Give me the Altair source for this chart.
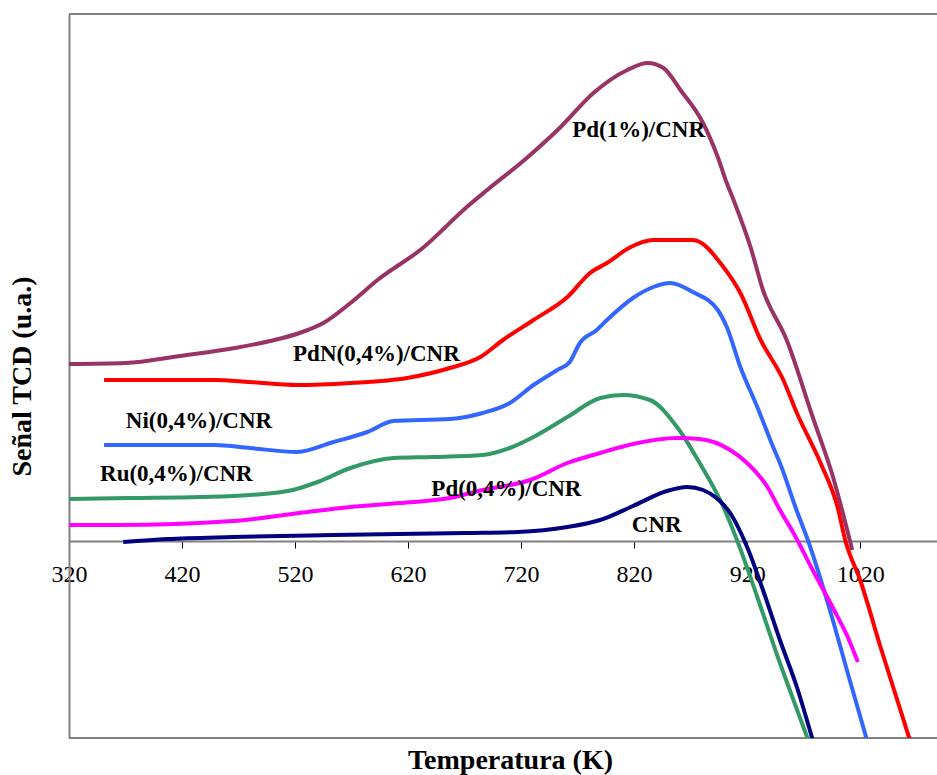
import altair as alt
import pandas as pd

# ---- data (K, TCD signal in arbitrary units) ----
names = ["Pd(1%)/CNR", "PdN(0,4%)/CNR", "Ni(0,4%)/CNR", "Ru(0,4%)/CNR", "Pd(0,4%)/CNR", "CNR"]
colors = ["#993366", "#FF0000", "#3366FF", "#339966", "#FF00FF", "#000080"]
widths = [4, 4, 4, 5, 4, 3]

pd1_k = [320, 370, 418, 467, 498, 524, 545, 569, 593, 633, 672, 690, 725, 755, 784, 814, 832, 846, 861, 881, 894, 902, 908, 923, 934, 955, 978, 996, 1013]
pd1_s = [177, 178, 185, 193, 200, 208, 218, 238, 261, 293, 334, 351, 383, 414, 448, 471, 478, 473, 451, 418, 384, 358, 341, 294, 251, 201, 124, 64, -9]

pdn_k = [351, 449, 480, 522, 569, 619, 657, 684, 704, 731, 761, 781, 796, 817, 837, 872, 899, 914, 932, 952, 964, 985, 1000, 1007, 1020, 1038, 1064]
pdn_s = [161, 161, 159, 156, 158, 163, 173, 184, 201, 221, 244, 268, 278, 294, 301, 301, 274, 248, 201, 161, 128, 78, 34, 0, -39, -106, -199]

ni_k = [351, 449, 480, 522, 554, 584, 607, 657, 686, 710, 731, 752, 763, 772, 787, 796, 819, 837, 852, 872, 894, 902, 914, 929, 943, 949, 964, 974, 994, 1009, 1026]
ni_s = [96, 96, 93, 89, 99, 109, 120, 122, 128, 138, 156, 171, 179, 198, 211, 221, 243, 254, 258, 249, 231, 214, 174, 134, 94, 78, 30, 0, -72, -132, -199]

ru_k = [320, 374, 436, 480, 518, 540, 569, 607, 642, 686, 710, 731, 761, 790, 810, 834, 858, 878, 899, 911, 929, 949, 961, 974]
ru_s = [42, 43, 44, 46, 51, 59, 73, 83, 84, 86, 93, 104, 124, 143, 146, 141, 114, 78, 34, 1, -56, -122, -159, -199]

pd04_k = [320, 363, 465, 524, 569, 613, 657, 686, 728, 761, 790, 819, 858, 878, 905, 920, 938, 949, 961, 978, 996, 1009, 1018]
pd04_s = [16, 16, 20, 28, 34, 38, 43, 51, 61, 78, 88, 97, 103, 102, 91, 78, 54, 31, 8, -29, -67, -96, -121]

cnr_k = [368, 407, 465, 554, 672, 717, 761, 790, 819, 849, 867, 881, 894, 905, 920, 934, 949, 964, 978]
cnr_s = [-1, 2, 4, 6, 8, 9, 14, 21, 35, 50, 54, 51, 42, 28, -6, -49, -99, -146, -199]

x_ticks = [320, 420, 520, 620, 720, 820, 920, 1020]

label_text = ["Pd(1%)/CNR", "PdN(0,4%)/CNR", "Ni(0,4%)/CNR", "Ru(0,4%)/CNR", "Pd(0,4%)/CNR", "CNR"]
label_k = [824, 592, 435, 415, 707, 840]
label_s = [411, 187, 120, 67, 52, 16]

# ---- tables ----
series = [(names[0], pd1_k, pd1_s), (names[1], pdn_k, pdn_s), (names[2], ni_k, ni_s),
          (names[3], ru_k, ru_s), (names[4], pd04_k, pd04_s), (names[5], cnr_k, cnr_s)]
rows = []
for order, (nm, ks, ss) in enumerate(series):
    for i, (k, s) in enumerate(zip(ks, ss)):
        rows.append({"series": nm, "K": k, "S": s, "i": i, "o": order})
df = pd.DataFrame(rows)
lbl = pd.DataFrame({"label": label_text, "K": label_k, "S": label_s})

W, H = 868, 724
XD = [320, 1088]
YD = [-197, 527]
FONT = "Liberation Serif"

xenc = alt.X("K:Q", scale=alt.Scale(domain=XD, nice=False, zero=False),
             axis=alt.Axis(values=x_ticks, format="d", offset=-197, grid=False,
                           domainColor="#808080", domainWidth=2,
                           tickColor="#000000", tickSize=7, tickWidth=1,
                           labelFont=FONT, labelFontSize=24, labelColor="#000000",
                           labelPadding=14, labelOverlap=False, labelFlush=False,
                           title="Temperatura (K)", titleFont=FONT, titleFontSize=28,
                           titleFontWeight="bold", titleColor="#000000",
                           titleX=441, titleY=219, titleAlign="center",
                           titleBaseline="middle"))
yenc = alt.Y("S:Q", scale=alt.Scale(domain=YD, nice=False, zero=False),
             axis=alt.Axis(labels=False, ticks=False, grid=False,
                           domainColor="#808080", domainWidth=2,
                           title="Señal TCD (u.a.)", titleFont=FONT, titleFontSize=28,
                           titleFontWeight="bold", titleColor="#000000",
                           titleAngle=270, titleX=-47, titleY=362,
                           titleAlign="center", titleBaseline="middle"))

lines = alt.Chart(df).mark_line(clip=True, interpolate="monotone").encode(
    x=xenc, y=yenc,
    color=alt.Color("series:N", scale=alt.Scale(domain=names, range=colors), legend=None),
    strokeWidth=alt.StrokeWidth("series:N", scale=alt.Scale(domain=names, range=widths), legend=None),
    order="i:Q",
)

texts = alt.Chart(lbl).mark_text(font=FONT, fontWeight="bold", fontSize=23, color="#000000").encode(
    x=alt.X("K:Q", scale=alt.Scale(domain=XD, nice=False, zero=False)),
    y=alt.Y("S:Q", scale=alt.Scale(domain=YD, nice=False, zero=False)),
    text="label:N",
)

border_df = pd.DataFrame({"b": [0]})
top = alt.Chart(border_df).mark_rule(color="#808080", strokeWidth=2).encode(
    x=alt.value(0), x2=alt.value(W), y=alt.value(0))
bottom = alt.Chart(border_df).mark_rule(color="#808080", strokeWidth=2).encode(
    x=alt.value(0), x2=alt.value(W), y=alt.value(H))

chart = alt.layer(top, bottom, lines, texts).properties(
    width=W, height=H, autosize="none",
    padding={"left": 69, "top": 14, "right": 0, "bottom": 37},
    background="white",
).configure_view(strokeWidth=0)

chart.save("out.html", embed_options={"renderer": "svg", "actions": False})
